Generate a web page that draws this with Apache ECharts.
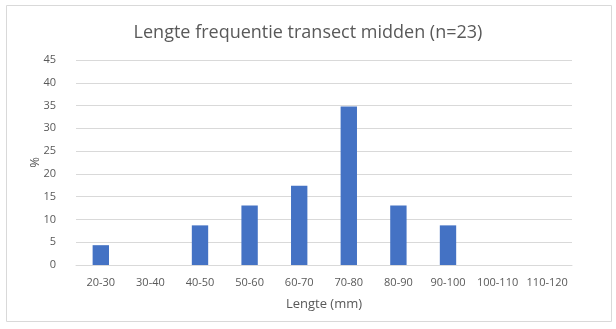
<!DOCTYPE html>
<html><head><meta charset="utf-8">
<script src="https://cdn.jsdelivr.net/npm/echarts@6/dist/echarts.min.js"></script>
<style>html,body{margin:0;padding:0;background:#fff;}#c{width:616px;height:329px;}</style>
</head><body><div id="c"></div>
<script>
const categories = ['20-30','30-40','40-50','50-60','60-70','70-80','80-90','90-100','100-110','110-120'];
const values = [4.35, 0, 8.70, 13.04, 17.39, 34.78, 13.04, 8.70, 0, 0];
const title = 'Lengte frequentie transect midden (n=23)';
const chart = echarts.init(document.getElementById('c'));
const font = '"Open Sans", "Liberation Sans", sans-serif';
chart.setOption({
  animation: false,
  textStyle: {fontFamily: font},
  graphic: [{type: 'rect', shape: {x: 6.5, y: 5.5, width: 605, height: 316}, style: {fill: 'none', stroke: '#d9d9d9', lineWidth: 1}, silent: true}],
  title: {text: title, left: 'center', top: 19, textStyle: {fontFamily: font, fontSize: 18, fontWeight: 'normal', color: '#595959'}},
  grid: {left: 76, right: 44, top: 60, bottom: 64},
  xAxis: {type: 'category', data: categories,
    name: 'Lengte (mm)', nameLocation: 'middle', nameGap: 33,
    nameTextStyle: {fontFamily: font, fontSize: 13, color: '#595959'},
    axisLine: {lineStyle: {color: '#d9d9d9'}}, axisTick: {show: false},
    axisLabel: {fontFamily: font, fontSize: 11, color: '#595959', interval: 0, margin: 12}},
  yAxis: {type: 'value', min: 0, max: 45, interval: 5,
    name: '%', nameLocation: 'middle', nameGap: 34, nameRotate: 90, nameMoveOverlap: false,
    nameTextStyle: {fontFamily: font, fontSize: 13, color: '#595959'},
    axisLine: {show: false}, axisTick: {show: false},
    splitLine: {lineStyle: {color: '#d9d9d9'}},
    axisLabel: {fontFamily: font, fontSize: 11, color: '#595959', margin: 20}},
  series: [{type: 'bar', data: values, barWidth: '33%', itemStyle: {color: '#4472c4'}}]
});
</script></body></html>
